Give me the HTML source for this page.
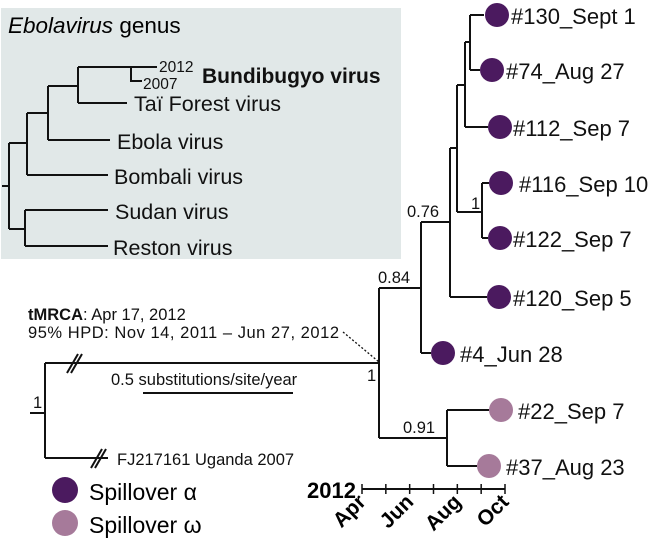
<!DOCTYPE html>
<html><head><meta charset="utf-8"><style>
html,body{margin:0;padding:0;background:#fff}
svg{display:block;font-family:"Liberation Sans",sans-serif}
</style></head><body>
<svg width="660" height="539" viewBox="0 0 660 539">
<g>
<rect x="1" y="8" width="400" height="251" fill="#e1e8e8"/>
<text x="8" y="33" font-size="22.5"><tspan font-style="italic">Ebolavirus</tspan> genus</text>
<g stroke="#111" stroke-width="2" fill="none">
<path d="M2 186H9M9 143V229M9 143H27M9 229H25"/>
<path d="M27 113V175M27 175H108M27 113H48"/>
<path d="M48 86V140M48 140H110M48 86H78"/>
<path d="M78 67V103M78 103H127M78 67H131"/>
<path d="M131 67H157M131 67V81H142"/>
<path d="M25 210V246M25 210H108M25 246H108"/>
</g>
<g font-size="21.5" fill="#111">
<text x="159" y="72" font-size="15.5">2012</text>
<text x="143" y="89" font-size="15.5">2007</text>
<text x="202" y="83" font-weight="bold" font-size="21">Bundibugyo virus</text>
<text x="134" y="111">Taï Forest virus</text>
<text x="117" y="149">Ebola virus</text>
<text x="114" y="184">Bombali virus</text>
<text x="115" y="219">Sudan virus</text>
<text x="113" y="255">Reston virus</text>
</g>
</g>
<g stroke="#111" stroke-width="2" fill="none">
<path d="M30 413H45M45 363V458M45 363H379M45 458H108"/>
<path d="M379 288V438M379 288H421M379 438H447"/>
<path d="M421 222V353M421 353H431M421 222H450"/>
<path d="M450 148V297M450 297H487M450 148H457"/>
<path d="M457 85V212M457 212H482M457 85H465"/>
<path d="M482 183V238M482 183H489M482 238H488"/>
<path d="M465 42V127M465 127H488M465 42H470"/>
<path d="M470 15V70M470 15H484M470 70H480"/>
<path d="M447 410V466M447 410H489M447 466H477"/>
<path d="M143 393H293"/>
<path d="M67 373L78 354M71 373L82 354M91 468L102 449M95 468L106 449" stroke="#111" stroke-width="2"/>
<path d="M343 332L379 362" stroke-dasharray="2,2" stroke-width="1.3"/>
</g>
<g>
<circle cx="497" cy="15" r="12" fill="#4b1a5f"/>
<circle cx="492" cy="70" r="12" fill="#4b1a5f"/>
<circle cx="500" cy="127" r="12" fill="#4b1a5f"/>
<circle cx="501" cy="183" r="12" fill="#4b1a5f"/>
<circle cx="500" cy="238" r="12" fill="#4b1a5f"/>
<circle cx="499" cy="297" r="12" fill="#4b1a5f"/>
<circle cx="443" cy="353" r="12" fill="#4b1a5f"/>
<circle cx="501" cy="410" r="12" fill="#a67a9a"/>
<circle cx="489" cy="466" r="12" fill="#a67a9a"/>
</g>
<g font-size="22" fill="#111">
<text x="511" y="24">#130_Sept 1</text>
<text x="506" y="79">#74_Aug 27</text>
<text x="513" y="136">#112_Sep 7</text>
<text x="519" y="192">#116_Sep 10</text>
<text x="513" y="247">#122_Sep 7</text>
<text x="513" y="306">#120_Sep 5</text>
<text x="460" y="362">#4_Jun 28</text>
<text x="518" y="419">#22_Sep 7</text>
<text x="506" y="475">#37_Aug 23</text>
</g>
<g font-size="16.5" fill="#111">
<text x="407" y="217">0.76</text>
<text x="471" y="209">1</text>
<text x="378" y="283">0.84</text>
<text x="367" y="381">1</text>
<text x="403" y="433">0.91</text>
<text x="33" y="408">1</text>
<text x="28" y="320"><tspan font-weight="bold">tMRCA</tspan>: Apr 17, 2012</text>
<text x="28" y="338" textLength="311">95% HPD: Nov 14, 2011 – Jun 27, 2012</text>
<text x="111" y="385">0.5 substitutions/site/year</text>
<text x="117" y="465">FJ217161 Uganda 2007</text>
</g>
<g>
<circle cx="65" cy="490" r="13" fill="#4b1a5f"/>
<text x="89" y="500" font-size="23">Spillover α</text>
<circle cx="65" cy="523" r="13" fill="#a67a9a"/>
<text x="89" y="533" font-size="23">Spillover ω</text>
</g>
<g id="axis"></g>
<script>
const axisTicks = ["Apr","May","Jun","Jul","Aug","Sep","Oct"];
const axisLabels = ["Apr","Jun","Aug","Oct"];
const x0 = 362, x1 = 505, ay = 489;
const ns = "http://www.w3.org/2000/svg";
const g = document.getElementById('axis');
function xs(i){return x0 + (x1 - x0) * i / (axisTicks.length - 1);}
const line = document.createElementNS(ns,'line');
line.setAttribute('x1',x0);line.setAttribute('x2',x1);line.setAttribute('y1',ay);line.setAttribute('y2',ay);
line.setAttribute('stroke','#111');line.setAttribute('stroke-width','2');


g.appendChild(line);
axisTicks.forEach((m,i)=>{
  const t = document.createElementNS(ns,'line');
  t.setAttribute('x1',xs(i));t.setAttribute('x2',xs(i));t.setAttribute('y1',ay-5);t.setAttribute('y2',ay+5);
  t.setAttribute('stroke','#111');t.setAttribute('stroke-width','1.5');
  
  
  g.appendChild(t);
  if (axisLabels.includes(m)) {
    const tx = document.createElementNS(ns,'text');
    const x = xs(i);
    tx.setAttribute('x', x+5); tx.setAttribute('y', ay+14);
    tx.setAttribute('text-anchor','end');
    tx.setAttribute('font-size','21');tx.setAttribute('font-weight','bold');
    tx.setAttribute('transform','rotate(-45 '+(x+5)+' '+(ay+14)+')');
    tx.textContent = m;
    
    
    g.appendChild(tx);
  }
});
const yr = document.createElementNS(ns,'text');
yr.setAttribute('x',356);yr.setAttribute('y',498);yr.setAttribute('text-anchor','end');
yr.setAttribute('font-size','22');yr.setAttribute('font-weight','bold');
yr.textContent='2012';


g.appendChild(yr);
</script>
</svg>
</body></html>
